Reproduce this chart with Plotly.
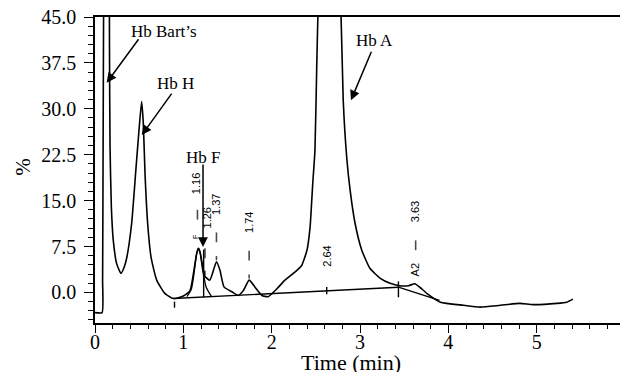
import plotly.graph_objects as go

# ---- chromatogram trace (time in min, signal in %) ----
time_min = [0.00, 0.08, 0.086, 0.092, 0.097, 0.10, 0.13, 0.16, 0.164, 0.17, 0.185, 0.207, 0.245,
            0.294, 0.332, 0.36, 0.415, 0.46, 0.498, 0.528, 0.547, 0.566, 0.596, 0.634, 0.698,
            0.79, 0.887, 1.00, 1.076, 1.12, 1.15, 1.17, 1.19, 1.21, 1.245, 1.30, 1.33, 1.375,
            1.415, 1.46, 1.55, 1.62, 1.68, 1.745, 1.81, 1.89, 1.96, 2.06, 2.15, 2.245, 2.30,
            2.34, 2.40, 2.435, 2.465, 2.49, 2.51, 2.53, 2.60, 2.66, 2.72, 2.78, 2.81, 2.85,
            2.888, 2.944, 3.02, 3.114, 3.23, 3.34, 3.45, 3.55, 3.62, 3.68, 3.76, 3.91, 4.17,
            4.36, 4.59, 4.81, 4.96, 5.23, 5.34, 5.41]
signal_pct = [-3.3, -3.3, 2.0, 25.0, 45.0, 55.0, 70.0, 55.0, 40.0, 24.0, 14.0, 8.5, 4.7,
              3.1, 4.2, 5.7, 11.3, 19.5, 26.5, 31.2, 27.6, 19.5, 11.3, 5.8, 2.0,
              -0.15, -1.0, -0.6, 0.3, 3.6, 6.3, 7.2, 6.6, 5.0, 2.6, 2.0, 3.1, 5.0,
              3.6, 0.9, 0.1, -0.5, 0.3, 2.0, 0.9, -0.5, -0.7, 0.6, 2.0, 3.1, 3.8,
              4.4, 6.9, 10.7, 17.8, 23.2, 36.8, 48.0, 62.0, 66.0, 62.0, 48.0, 31.4, 22.0,
              16.7, 11.3, 6.9, 3.9, 2.3, 1.5, 1.1, 1.1, 1.4, 0.8, -0.2, -1.6, -2.1,
              -2.4, -2.1, -1.8, -2.0, -1.8, -1.6, -1.1]

# fitted Hb F peak
fit_time = [1.04, 1.09, 1.12, 1.15, 1.17, 1.19, 1.22, 1.26, 1.32]
fit_signal = [-0.7, 0.5, 3.0, 6.2, 7.2, 6.4, 3.5, 0.8, -0.7]

# integration baselines
base_time = [0.887, 3.435, None, 3.435, 3.90]
base_signal = [-1.0, 0.85, None, 0.85, -1.3]

# Hb F drop line
drop_time = [1.23, 1.23]
drop_signal = [7.0, -0.8]

# retention times with peak labels
rt_labels = ["1.16", "1.26", "1.37", "1.74", "2.64", "3.63"]
rt_values = [1.151, 1.265, 1.378, 1.736, 2.623, 3.623]
rt_label_y = [17.8, 12.2, 14.4, 11.4, 5.95, 13.1]

# dash marks above peaks
dash_time = [1.16, 1.245, 1.375, 1.745, 3.63, 1.245, 1.375, 1.745]
dash_signal = [12.7, 6.4, 9.0, 6.0, 7.7, 3.2, 5.6, 2.6]
dash_size = [7, 7, 7, 7, 7, 3, 3, 3]

# baseline tick marks
btick_time = [0.90, 0.90, None, 2.623, 2.623, None, 3.435, 3.435]
btick_signal = [-1.5, -2.5, None, -0.3, 0.9, None, -0.8, 1.8]

x_ticks = [0, 1, 2, 3, 4, 5, 6]
y_ticks = [0.0, 7.5, 15.0, 22.5, 30.0, 37.5, 45.0]
y_tick_text = ["0.0", "7.5", "15.0", "22.5", "30.0", "37.5", "45.0"]

SERIF = "Liberation Serif"
SANS = "Liberation Sans"

fig = go.Figure()
fig.add_trace(go.Scatter(x=time_min, y=signal_pct, mode="lines",
                         line=dict(color="black", width=1.6, shape="spline", smoothing=0.5),
                         showlegend=False, hoverinfo="skip"))
fig.add_trace(go.Scatter(x=fit_time, y=fit_signal, mode="lines",
                         line=dict(color="black", width=1.3, shape="spline", smoothing=0.6),
                         showlegend=False, hoverinfo="skip"))
fig.add_trace(go.Scatter(x=base_time, y=base_signal, mode="lines",
                         line=dict(color="black", width=1.4), showlegend=False, hoverinfo="skip"))
fig.add_trace(go.Scatter(x=drop_time, y=drop_signal, mode="lines",
                         line=dict(color="black", width=1.4), showlegend=False, hoverinfo="skip"))
fig.add_trace(go.Scatter(x=btick_time, y=btick_signal, mode="lines",
                         line=dict(color="black", width=1.4), showlegend=False, hoverinfo="skip"))
fig.add_trace(go.Scatter(x=dash_time, y=dash_signal, mode="markers",
                         marker=dict(symbol="line-ns", size=dash_size,
                                     line=dict(color="black", width=1.6)),
                         showlegend=False, hoverinfo="skip"))

annotations = []
for t, x, y in zip(rt_labels, rt_values, rt_label_y):
    annotations.append(dict(x=x, y=y, text=t, showarrow=False, textangle=-90,
                            font=dict(family=SANS, size=11, color="black")))
annotations.append(dict(x=3.623, y=3.6, text="A2", showarrow=False, textangle=-90,
                        font=dict(family=SANS, size=11, color="black")))
annotations.append(dict(x=1.132, y=9.05, text="F", showarrow=False, textangle=-90,
                        font=dict(family=SANS, size=7, color="black")))

# peak names
peak_names = ["Hb Bart\u2019s", "Hb H", "Hb F", "Hb A"]
name_x = [0.781, 0.906, 1.223, 3.159]
name_y = [42.55, 34.2, 22.1, 41.1]
for t, x, y in zip(peak_names, name_x, name_y):
    annotations.append(dict(x=x, y=y, text=t, showarrow=False,
                            font=dict(family=SERIF, size=17, color="black")))

# arrows pointing at peaks
arrow_x = [0.132, 0.529, 1.223, 2.898]
arrow_y = [34.26, 25.7, 7.42, 31.4]
arrow_ax = [33, 31, 0, 21]
arrow_ay = [-45, -43, -84, -50]
for x, y, ax, ay in zip(arrow_x, arrow_y, arrow_ax, arrow_ay):
    annotations.append(dict(x=x, y=y, ax=ax, ay=ay, text="", showarrow=True,
                            arrowhead=2, arrowsize=1.3, arrowwidth=1.5, arrowcolor="black"))

# axis titles
annotations.append(dict(x=-0.136, y=0.51, xref="paper", yref="paper", text="%",
                        xanchor="center", yanchor="middle",
                        showarrow=False, textangle=-90,
                        font=dict(family=SERIF, size=21, color="black")))
annotations.append(dict(x=0.483, y=-0.128, xref="paper", yref="paper", text="Time (min)",
                        xanchor="center", yanchor="middle",
                        showarrow=False, font=dict(family=SERIF, size=22, color="black")))

# the page body adds an 8 px offset, so the figure is sized 8 px smaller
fig.update_layout(
    width=620, height=364,
    margin=dict(l=87, r=3, t=9, b=49),
    paper_bgcolor="white", plot_bgcolor="white",
    annotations=annotations,
    xaxis=dict(range=[0, 6], tickvals=x_ticks, showgrid=False, zeroline=False,
               automargin=False, ticklabeloverflow="allow", ticklabelstandoff=-8,
               showline=True, linecolor="black", linewidth=1.5, mirror=True,
               ticks="outside", ticklen=8, tickwidth=1.3, tickcolor="black",
               minor=dict(dtick=0.2, ticks="outside", ticklen=4, tickwidth=1.2, tickcolor="black"),
               tickfont=dict(family=SERIF, size=20, color="black")),
    yaxis=dict(range=[-5, 45], tickvals=y_ticks, ticktext=y_tick_text, showgrid=False,
               automargin=False, ticklabeloverflow="allow", ticklabelstandoff=4,
               zeroline=False, showline=True, linecolor="black", linewidth=1.5, mirror=True,
               ticks="outside", ticklen=9, tickwidth=1.3, tickcolor="black",
               minor=dict(dtick=1.5, tick0=0, ticks="outside", ticklen=5, tickwidth=1.2,
                          tickcolor="black"),
               tickfont=dict(family=SERIF, size=20, color="black")),
)

fig.write_html("out.html")
